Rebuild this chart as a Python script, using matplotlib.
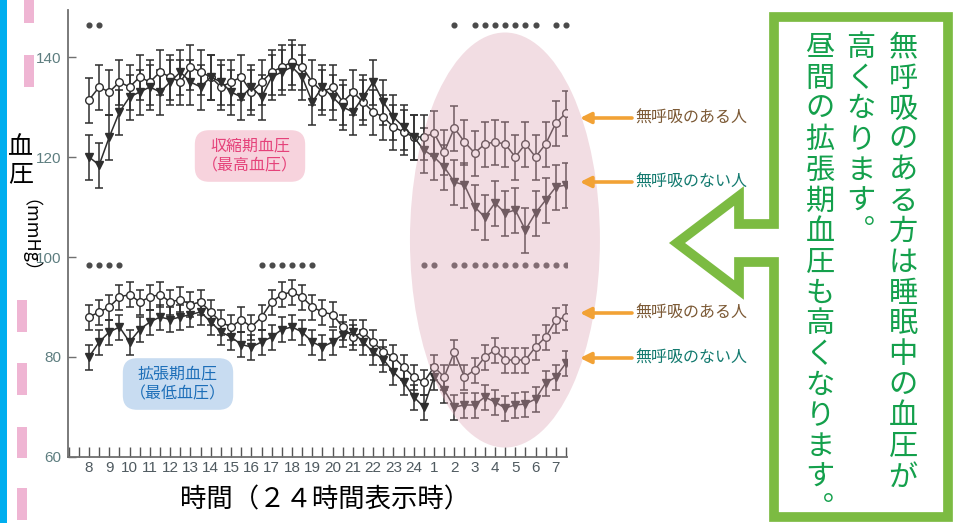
import numpy as np
import matplotlib
matplotlib.use('Agg')
import matplotlib.pyplot as plt
from matplotlib.patches import Ellipse, Polygon, Rectangle
from matplotlib.ticker import MultipleLocator

plt.rcParams['font.family'] = ['Noto Sans CJK JP', 'DejaVu Sans']

W, H = 954, 523

# half-hourly readings, 8:00 through 7:30 the next morning
times = np.arange(8, 32, 0.5)
hour_ticks = list(range(8, 32))
hour_labels = [str(h) for h in range(8, 25)] + [str(h) for h in range(1, 8)]

# systolic (mmHg)
sys_apnea = [131.4, 134, 133, 135, 134, 136, 135, 137, 136, 135,
             138, 137, 136, 134, 135, 136, 133, 135, 137, 138,
             139, 138, 135, 133, 134, 131, 133, 131, 129, 128,
             126, 125, 124, 124, 124.8, 121, 125.8, 123, 120.8, 122.6,
             123, 122.6, 120, 122.6, 120, 122.6, 126.8, 128.8]
sys_normal = [120, 118.4, 124, 129, 132, 133, 134, 133, 135, 137,
              135, 134, 136, 135, 133, 132, 134, 132, 136, 137,
              138, 136, 131, 134, 132, 130, 129, 132, 135, 131,
              128, 126, 124, 121.4, 120, 118, 115, 114.4, 110, 108,
              110.8, 108.8, 109.4, 105.4, 108.8, 111.4, 114, 114.4]
# diastolic (mmHg)
dia_apnea = [88, 89, 90, 92, 92.5, 91, 92, 92.5, 91, 91.5,
             90.5, 91, 89, 87, 86, 87.5, 86, 88, 91, 92.5,
             93, 92, 90, 89, 88.5, 86, 84, 85, 83, 81,
             80, 78, 76, 75, 78, 76, 81, 76, 77.4, 80,
             81.4, 79.4, 79.4, 79.4, 82, 84, 87.4, 88]
dia_normal = [80, 83, 85, 86, 83, 85.5, 87, 88, 87.5, 88,
              88.5, 89, 87, 85, 84, 82.5, 82, 83, 84, 85.5,
              86, 85, 83, 82, 83, 84.5, 85, 83, 81, 79.5,
              77, 75, 72, 70, 76, 73.4, 70, 70.4, 70.4, 72,
              71, 69.8, 70.4, 70.6, 71.6, 74.8, 76, 78.8]
sys_err = 4.5
dia_err = 2.5

# readings marked as significant (index into times)
sys_sig = [0, 1, 36, 38, 39, 40, 41, 42, 43, 44, 46, 47]
dia_sig = [0, 1, 2, 3, 17, 18, 19, 20, 21, 22, 33, 34] + list(range(36, 48))

DARK = '#2e2e2e'
ORANGE = '#F2A235'
BROWN = '#7C5A36'
TEAL = '#137A6F'
GREEN_LINE = '#7CBB42'
GREEN_TEXT = '#14A04C'
TICKFONT = ['Liberation Sans', 'DejaVu Sans']


def fx(px):
    return px / W


def fy(py):
    return 1 - py / H


fig = plt.figure(figsize=(W / 100, H / 100), dpi=100)
fig.patch.set_facecolor('white')

ax = fig.add_axes([fx(68), fy(457), fx(567) - fx(68), fy(10) - fy(457)])
ax.set_xlim(8 - 21 / 20.3, 31.55)
ax.set_ylim(60, 149.4)

for vals, err, mk, face in [(sys_apnea, sys_err, 'o', 'white'),
                            (sys_normal, sys_err, 'v', DARK),
                            (dia_apnea, dia_err, 'o', 'white'),
                            (dia_normal, dia_err, 'v', DARK)]:
    ax.errorbar(times, vals, yerr=err, fmt='-' + mk, color=DARK, mfc=face,
                mec=DARK, ms=5.5, lw=1.1, elinewidth=1.1, capsize=2.8,
                capthick=1.1, zorder=3)

ax.plot(times[sys_sig], [146.4] * len(sys_sig), 'o', ms=3.4, color='#4a4a4a',
        zorder=3, clip_on=False)
ax.plot(times[dia_sig], [98.4] * len(dia_sig), 'o', ms=3.4, color='#4a4a4a',
        zorder=3)

# pink highlight over the night-time readings
ax.add_patch(Ellipse((8 + (505 - 89) / 20.3, 103.4), 190 / 20.3, 83,
                     facecolor='#DDA6B6', edgecolor='none', alpha=0.38,
                     zorder=5, clip_on=False))

for s in ['top', 'right']:
    ax.spines[s].set_visible(False)
for s in ['left', 'bottom']:
    ax.spines[s].set_color('#707070')
    ax.spines[s].set_linewidth(1.3)

ax.set_xticks(hour_ticks)
ax.set_xticklabels(hour_labels, fontsize=11, color='#4F5A60', family=TICKFONT)
ax.xaxis.set_minor_locator(MultipleLocator(0.5))
ax.tick_params(axis='x', which='both', direction='in', length=7, width=1,
               color='#555555', pad=3)
ax.set_yticks([60, 80, 100, 120, 140])
ax.set_yticklabels(['60', '80', '100', '120', '140'], fontsize=11,
                   color='#5E7E80', family=TICKFONT)
ax.tick_params(axis='y', direction='in', length=6, width=1,
               color='#707070', pad=5)

# curve labels
fig.text(fx(250), fy(156), '収縮期血圧\n（最高血圧）', fontsize=11.5,
         color='#E5427A', ha='center', va='center', linespacing=1.25,
         bbox=dict(boxstyle='round,pad=0.45,rounding_size=0.9',
                   fc='#F7D3DD', ec='none'))
fig.text(fx(178), fy(384), '拡張期血圧\n（最低血圧）', fontsize=11.5,
         color='#1C6EB8', ha='center', va='center', linespacing=1.25,
         bbox=dict(boxstyle='round,pad=0.45,rounding_size=0.9',
                   fc='#C8DCF1', ec='none'))

# orange pointers
for y, label, col in [(118, '無呼吸のある人', BROWN),
                      (182, '無呼吸のない人', TEAL),
                      (313, '無呼吸のある人', BROWN),
                      (358, '無呼吸のない人', TEAL)]:
    ax.annotate('', xy=(fx(580), fy(y)), xytext=(fx(632), fy(y)),
                xycoords='figure fraction', textcoords='figure fraction',
                arrowprops=dict(arrowstyle='-|>', color=ORANGE, lw=2.6,
                                mutation_scale=16, shrinkA=0, shrinkB=0),
                annotation_clip=False, zorder=6)
    fig.text(fx(635), fy(y), label, fontsize=11.5, color=col,
             ha='left', va='center')

# axis titles
fig.text(fx(21), fy(147), '血', fontsize=18, ha='center', va='center')
fig.text(fx(21), fy(174), '圧', fontsize=18, ha='center', va='center')
fig.text(fx(20), fy(245), '（mmHg）', fontsize=13, rotation=-90,
         ha='center', va='center')
fig.text(fx(325), fy(500), '時間（２４時間表示時）', fontsize=19,
         ha='center', va='center')

# page decorations
fig.patches.append(Rectangle((0, 0), fx(7), 1, transform=fig.transFigure,
                             facecolor='#00AEEF', edgecolor='none'))
for x0, y0, y1 in [(24, -5, 23), (24, 55, 87), (17, 300, 332),
                   (17, 363, 395), (17, 427, 458), (17, 488, 520)]:
    fig.patches.append(Rectangle((fx(x0), fy(y1)), fx(10), fy(y0) - fy(y1),
                                 transform=fig.transFigure,
                                 facecolor='#EFB5D3', edgecolor='none'))

# green callout box with arrow
outline = [(774, 17), (948, 17), (948, 517), (774, 517), (774, 262),
           (739, 262), (739, 290), (677, 243), (739, 196), (739, 224),
           (774, 224)]
fig.patches.append(Polygon([(fx(x), fy(y)) for x, y in outline], closed=True,
                           transform=fig.transFigure, facecolor='white',
                           edgecolor=GREEN_LINE, linewidth=7,
                           joinstyle='miter'))

columns = [(903, '無呼吸のある方は睡眠中の血圧が'),
           (861, '高くなります︒'),
           (820, '昼間の拡張期血圧も高くなります︒')]
for cx, line in columns:
    for k, ch in enumerate(line):
        fig.text(fx(cx), fy(48 + 30.7 * k), ch, fontsize=21,
                 color=GREEN_TEXT, ha='center', va='center')

fig.savefig('out.png', dpi=100)
